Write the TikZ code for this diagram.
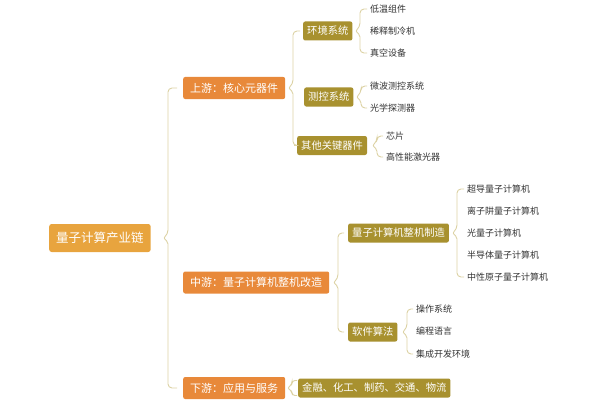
\documentclass[tikz,border=0pt]{standalone}
\usepackage{fontspec}
\setmainfont{Noto Sans CJK SC}
\usetikzlibrary{calc}
\definecolor{rootc}{HTML}{E8A43E}
\definecolor{lonec}{HTML}{E8893A}
\definecolor{ltwoc}{HTML}{A8912F}
\definecolor{brc}{HTML}{DCD2A4}
\definecolor{leafc}{HTML}{333333}
\tikzset{
  rootbox/.style={fill=rootc,text=white,rounded corners=2.5pt,anchor=west,inner xsep=7pt,inner ysep=0pt,minimum height=28pt,font=\fontsize{12.5}{13}\selectfont},
  onebox/.style={fill=lonec,text=white,rounded corners=2pt,anchor=west,inner xsep=7pt,inner ysep=0pt,minimum height=22pt,font=\fontsize{11}{12}\selectfont},
  twobox/.style={fill=ltwoc,text=white,rounded corners=2pt,anchor=west,inner xsep=4pt,inner ysep=0pt,minimum height=19pt,font=\fontsize{10.3}{11}\selectfont},
  leaf/.style={text=leafc,anchor=west,inner sep=0pt,font=\fontsize{9}{10}\selectfont},
  brace/.style={draw=brc,line width=0.9pt,rounded corners=4pt}
}
% \brk{parent}{first}{last}{x of vertical}{end x offset}
\newcommand{\brk}[5]{%
  \draw[brace] ($(#2.west)+(-#5,0)$) -- (#4,0 |- #2.west)
    -- ($(#4,0 |- #1.east)+(0,-4)$) [rounded corners=2pt] -- ($(#4,0 |- #1.east)+(-4.5,0)$)
    -- ($(#4,0 |- #1.east)+(0,4)$) [rounded corners=4pt] -- (#4,0 |- #3.west) -- ($(#3.west)+(-#5,0)$);}
\begin{document}
\begin{tikzpicture}[x=1pt,y=-1pt]
\useasboundingbox (0,0) rectangle (600,412);
% root
\node[rootbox] (root) at (49,238) {量子计算产业链};
% level 1
\node[onebox] (up) at (183,88) {上游：核心元器件};
\node[onebox] (mid) at (183,282.5) {中游：量子计算机整机改造};
\node[onebox] (down) at (183,388) {下游：应用与服务};
% level 2
\node[twobox] (env) at (303,31) {环境系统};
\node[twobox] (ctl) at (304,97) {测控系统};
\node[twobox] (oth) at (297,145.5) {其他关键器件};
\node[twobox] (mfg) at (348,233) {量子计算机整机制造};
\node[twobox] (sw) at (348,332) {软件算法};
\node[twobox] (app) at (298,388) {金融、化工、制药、交通、物流};
% leaves
\node[leaf] (e1) at (370,9) {低温组件};
\node[leaf] (e2) at (370,31.5) {稀释制冷机};
\node[leaf] (e3) at (370,53) {真空设备};
\node[leaf] (c1) at (370,86) {微波测控系统};
\node[leaf] (c2) at (370,108) {光学探测器};
\node[leaf] (o1) at (386,136) {芯片};
\node[leaf] (o2) at (386,157) {高性能激光器};
\node[leaf] (m1) at (467,189) {超导量子计算机};
\node[leaf] (m2) at (467,211.5) {离子阱量子计算机};
\node[leaf] (m3) at (467,233) {光量子计算机};
\node[leaf] (m4) at (467,255.5) {半导体量子计算机};
\node[leaf] (m5) at (467,277) {中性原子量子计算机};
\node[leaf] (s1) at (416,309) {操作系统};
\node[leaf] (s2) at (416,331.5) {编程语言};
\node[leaf] (s3) at (416,354) {集成开发环境};
% braces
\brk{root}{up}{down}{168}{6}
\brk{up}{env}{oth}{293}{3}
\brk{mid}{mfg}{sw}{338}{4}
\brk{env}{e1}{e3}{360}{3}
\brk{ctl}{c1}{c2}{361}{3}
\brk{oth}{o1}{o2}{377}{3}
\brk{mfg}{m1}{m5}{457}{3}
\brk{sw}{s1}{s3}{407}{3}
\coordinate (dt) at (297,380.5);
\coordinate (db) at (297,395.5);
\draw[brace,rounded corners=3pt] (dt) -- (292,380.5) -- (292,384.5) [rounded corners=2pt] -- (287.5,388) -- (292,391.5) [rounded corners=3pt] -- (292,395.5) -- (db);
\end{tikzpicture}
\end{document}
